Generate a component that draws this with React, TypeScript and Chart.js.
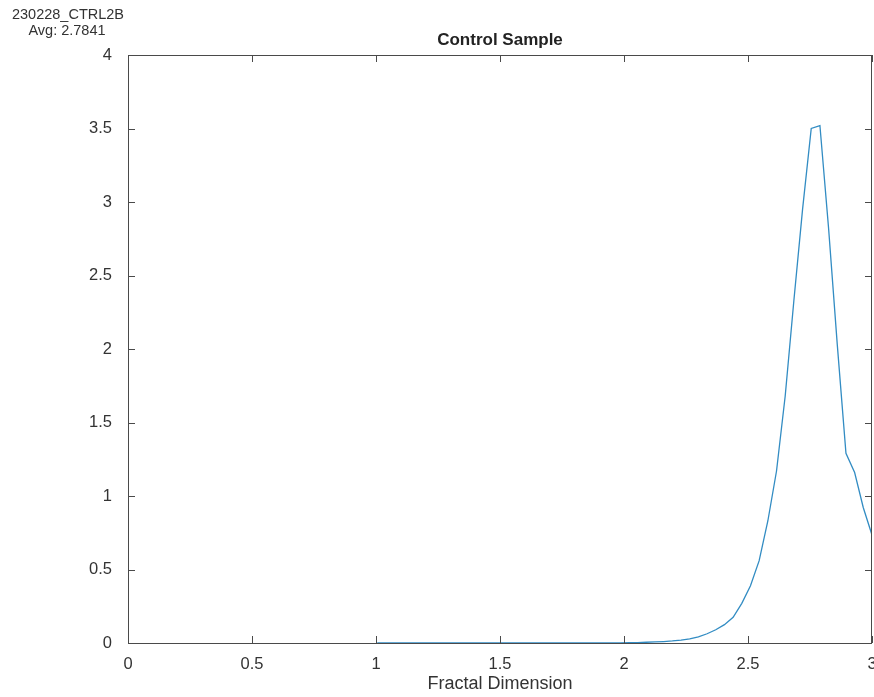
import React, { useEffect, useRef } from 'react';
import { Chart, registerables } from 'chart.js';

Chart.register(...registerables);

const sampleId = '230228_CTRL2B';
const avgLabel = 'Avg: 2.7841';
const chartTitle = 'Control Sample';
const xAxisLabel = 'Fractal Dimension';

const fractalDims = [
  1.005, 1.04, 1.075, 1.11, 1.145, 1.18, 1.215, 1.25, 1.285, 1.32,
  1.355, 1.39, 1.425, 1.46, 1.495, 1.53, 1.565, 1.6, 1.635, 1.67,
  1.705, 1.74, 1.775, 1.81, 1.845, 1.88, 1.915, 1.95, 1.985, 2.02,
  2.055, 2.09, 2.125, 2.16, 2.195, 2.23, 2.265, 2.3, 2.335, 2.37,
  2.405, 2.44, 2.475, 2.51, 2.545, 2.58, 2.615, 2.65, 2.685, 2.72,
  2.755, 2.79, 2.825, 2.86, 2.895, 2.93, 2.965, 3.0,
];

const density = [
  0.0004, 0.0004, 0.0004, 0.0005, 0.0005, 0.0005, 0.0005, 0.0005, 0.0006, 0.0006,
  0.0006, 0.0006, 0.0007, 0.0007, 0.0007, 0.0007, 0.0008, 0.0008, 0.0008, 0.0009,
  0.0009, 0.0009, 0.001, 0.001, 0.001, 0.0011, 0.0012, 0.0013, 0.0015, 0.002,
  0.003, 0.005, 0.007, 0.01, 0.014, 0.02, 0.028, 0.042, 0.063, 0.09,
  0.125, 0.175, 0.27, 0.39, 0.56, 0.83, 1.17, 1.68, 2.33, 2.95,
  3.5, 3.52, 2.82, 2.03, 1.29, 1.16, 0.92, 0.735,
];

const xTicks = [0, 0.5, 1, 1.5, 2, 2.5, 3];
const yTicks = [0, 0.5, 1, 1.5, 2, 2.5, 3, 3.5, 4];

const FONT = '"Liberation Sans", Arial, Helvetica, sans-serif';

const framePlugin = {
  id: 'matlabFrame',
  afterDraw(chart: any) {
    const { ctx, chartArea, scales } = chart;
    const { left, right, top, bottom } = chartArea;
    ctx.save();
    ctx.strokeStyle = '#4a4a4a';
    ctx.lineWidth = 1;
    ctx.strokeRect(Math.round(left) + 0.5, Math.round(top) + 0.5, Math.round(right - left) - 1, Math.round(bottom - top));
    const tl = 7;
    ctx.beginPath();
    for (const v of xTicks) {
      const px = Math.round(scales.x.getPixelForValue(v)) + 0.5;
      ctx.moveTo(px, bottom);
      ctx.lineTo(px, bottom - tl);
      ctx.moveTo(px, top);
      ctx.lineTo(px, top + tl);
    }
    for (const v of yTicks) {
      const py = Math.round(scales.y.getPixelForValue(v)) + 0.5;
      ctx.moveTo(left, py);
      ctx.lineTo(left + tl, py);
      ctx.moveTo(right, py);
      ctx.lineTo(right - tl, py);
    }
    ctx.stroke();

    ctx.fillStyle = '#222';
    ctx.textAlign = 'center';
    ctx.textBaseline = 'alphabetic';
    ctx.font = `bold 17px ${FONT}`;
    ctx.fillText(chartTitle, (left + right) / 2, 45);
    ctx.fillStyle = '#333';
    ctx.font = `18px ${FONT}`;
    ctx.fillText(xAxisLabel, (left + right) / 2, 689);
    ctx.font = `14.5px ${FONT}`;
    ctx.fillText(sampleId, 68, 19);
    ctx.fillText(avgLabel, 67, 35);
    ctx.restore();
  },
};

const fmt = (v: any) => String(Math.round(Number(v) * 100) / 100);

export default function App() {
  const ref = useRef<HTMLCanvasElement | null>(null);
  useEffect(() => {
    if (!ref.current) return;
    const chart = new Chart(ref.current, {
      type: 'line',
      data: {
        datasets: [
          {
            data: fractalDims.map((x, i) => ({ x, y: density[i] })),
            borderColor: 'rgb(50,140,195)',
            borderWidth: 1.3,
            pointRadius: 0,
            tension: 0,
            fill: false,
          },
        ],
      },
      options: {
        animation: false,
        responsive: false,
        layout: { padding: { left: 0, right: 2, top: 55, bottom: 0 } },
        plugins: { legend: { display: false }, tooltip: { enabled: false }, title: { display: false } },
        scales: {
          x: {
            type: 'linear',
            min: 0,
            max: 3,
            grid: { display: false },
            border: { display: false },
            ticks: {
              stepSize: 0.5,
              padding: 4,
              color: '#333',
              font: { family: FONT, size: 16.5 },
              maxRotation: 0,
              callback: fmt,
            },
            afterFit(scale: any) {
              scale.height = 54;
              scale.paddingLeft = 0;
              scale.paddingRight = 0;
            },
          },
          y: {
            type: 'linear',
            min: 0,
            max: 4,
            grid: { display: false },
            border: { display: false },
            ticks: {
              stepSize: 0.5,
              padding: 8,
              color: '#333',
              font: { family: FONT, size: 16.5 },
              callback: fmt,
            },
            afterFit(scale: any) {
              scale.width = 128;
              scale.paddingTop = 0;
              scale.paddingBottom = 0;
            },
          },
        },
      },
      plugins: [framePlugin],
    });
    return () => chart.destroy();
  }, []);
  return (
    <div style={{ position: 'absolute', left: 0, top: 0, width: 874, height: 697, background: '#fff' }}>
      <canvas ref={ref} width={874} height={697} style={{ width: 874, height: 697, display: 'block' }} />
    </div>
  );
}
